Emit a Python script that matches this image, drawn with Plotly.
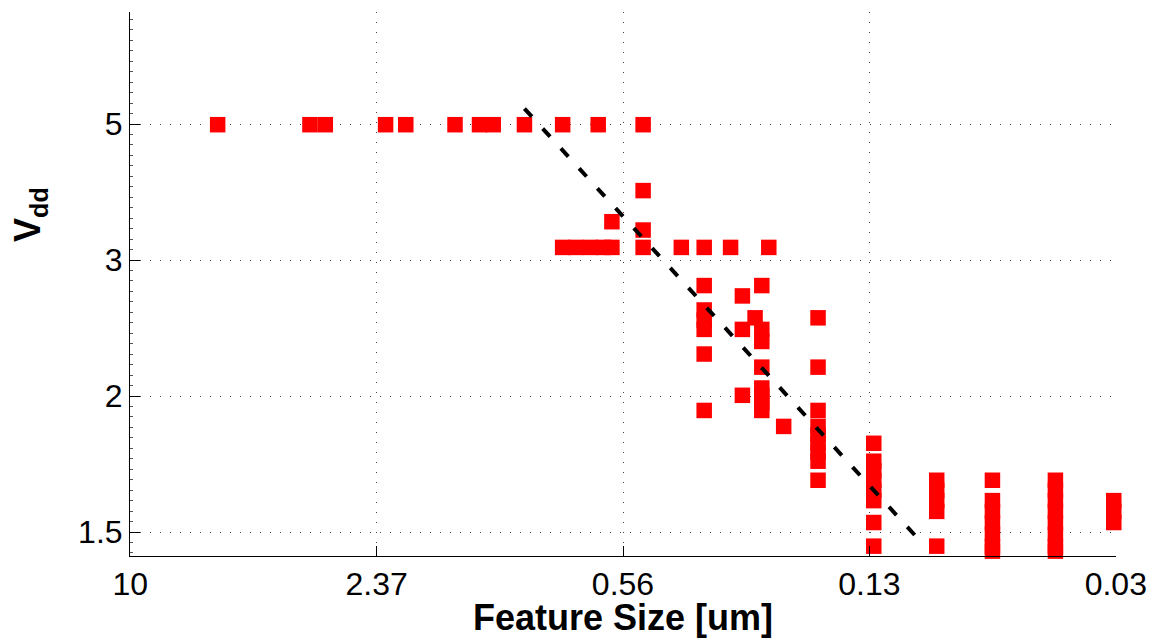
import numpy as np
import plotly.graph_objects as go

# ---- data (feature size in um, supply voltage in V) ----
feature_um = [
    6.0, 3.5, 3.2, 2.25, 2.0, 1.5, 1.3, 1.2, 1.0, 0.8, 0.65, 0.5,
    0.8, 0.74, 0.68, 0.63, 0.6, 0.5, 0.4, 0.35, 0.3, 0.24,
    0.6, 0.5, 0.5,
    0.35, 0.35, 0.35, 0.35, 0.35, 0.35,
    0.28, 0.28, 0.28,
    0.26,
    0.25, 0.25, 0.25, 0.25, 0.25, 0.25, 0.25, 0.25,
    0.22,
    0.18, 0.18, 0.18, 0.18, 0.18, 0.18, 0.18, 0.18, 0.18,
    0.13, 0.13, 0.13, 0.13, 0.13, 0.13, 0.13, 0.13,
    0.09, 0.09, 0.09, 0.09, 0.09,
    0.065, 0.065, 0.065, 0.065, 0.065, 0.065, 0.065,
    0.045, 0.045, 0.045, 0.045, 0.045, 0.045, 0.045, 0.045,
    0.032, 0.032, 0.032,
]
vdd = [
    5, 5, 5, 5, 5, 5, 5, 5, 5, 5, 5, 5,
    3.3, 3.3, 3.3, 3.3, 3.3, 3.3, 3.3, 3.3, 3.3, 3.3,
    3.6, 4.0, 3.5,
    2.9, 2.67, 2.58, 2.5, 2.3, 1.9,
    2.8, 2.5, 2.0,
    2.6,
    2.9, 2.5, 2.4, 2.2, 2.05, 2.0, 1.95, 1.9,
    1.8,
    2.6, 2.2, 1.9, 1.8, 1.75, 1.7, 1.65, 1.6, 1.5,
    1.7, 1.6, 1.55, 1.5, 1.45, 1.4, 1.3, 1.2,
    1.5, 1.45, 1.4, 1.35, 1.2,
    1.5, 1.4, 1.35, 1.3, 1.25, 1.2, 1.18,
    1.5, 1.45, 1.4, 1.35, 1.3, 1.25, 1.2, 1.18,
    1.4, 1.35, 1.3,
]

# dashed trend line end points
trend_x = [1.0, 0.1]
trend_y = [5.28, 1.228]

# axis ticks
x_tick_vals = [10 ** 1.0, 10 ** 0.375, 10 ** -0.25, 10 ** -0.875, 10 ** -1.5]
x_tick_text = ["10", "2.37", "0.56", "0.13", "0.03"]
y_tick_vals = [10 ** 0.1, 10 ** 0.3, 10 ** 0.5, 10 ** 0.7]
y_tick_text = ["1.5", "2", "3", "5"]

FONT = "Liberation Sans, Arial, Helvetica, sans-serif"

fig = go.Figure()
fig.add_trace(go.Scatter(
    x=feature_um, y=vdd, mode="markers",
    marker=dict(symbol="square", size=15.5, color="#ff0000", line=dict(width=0)),
    cliponaxis=False, showlegend=False, hoverinfo="x+y",
))
fig.add_trace(go.Scatter(
    x=trend_x, y=trend_y, mode="lines",
    line=dict(color="black", width=4, dash="11px,16px"),
    showlegend=False,
))

y_lo, y_hi = 0.1 - 24 / 680, 0.7 + 112 / 680
minor_y = [10 ** (0.1 + k * 0.2 / 13) for k in range(-2, 50)
           if y_lo < 0.1 + k * 0.2 / 13 < y_hi]

fig.update_layout(
    width=1165, height=640,
    margin=dict(l=130, r=49, t=12, b=84),
    paper_bgcolor="white", plot_bgcolor="white",
    font=dict(family=FONT, size=32, color="black"),
    xaxis=dict(
        type="log", range=[1.0005, -1.5005], autorange=False,
        tickmode="array", tickvals=x_tick_vals, ticktext=x_tick_text,
        ticks="inside", ticklen=10, tickwidth=1, tickcolor="black",
        showline=True, linecolor="black", linewidth=1, mirror=False,
        showgrid=True, gridcolor="#444", gridwidth=1, griddash="1px,9px",
        zeroline=False,
        tickfont=dict(family=FONT, size=32, color="black"),
    ),
    yaxis=dict(
        type="log", range=[y_lo, y_hi], autorange=False,
        tickmode="array", tickvals=y_tick_vals, ticktext=y_tick_text,
        ticks="inside", ticklen=10, tickwidth=1, tickcolor="black",
        showline=True, linecolor="black", linewidth=1, mirror=False,
        showgrid=True, gridcolor="#444", gridwidth=1, griddash="1px,9px",
        zeroline=False,
        tickfont=dict(family=FONT, size=32, color="black"),
        minor=dict(tickmode="array", tickvals=minor_y, ticks="inside",
                   ticklen=3, tickcolor="#555", tickwidth=1, showgrid=False),
    ),
    annotations=[
        dict(text="<b>Feature Size [um]</b>", xref="paper", yref="paper",
             x=0.5, y=(556 - 617) / 544, xanchor="center", yanchor="middle",
             showarrow=False, font=dict(family=FONT, size=36, color="black")),
        dict(text="<b>V<sub>dd</sub></b>", xref="paper", yref="paper",
             x=(30 - 130) / 986, y=(556 - 215) / 544, xanchor="center", yanchor="middle",
             textangle=-90, showarrow=False,
             font=dict(family=FONT, size=36, color="black")),
    ],
)

fig.write_html(
    "out.html",
    config={"displayModeBar": False},
    post_script="document.body.style.margin='0';document.body.style.overflow='hidden';",
)
